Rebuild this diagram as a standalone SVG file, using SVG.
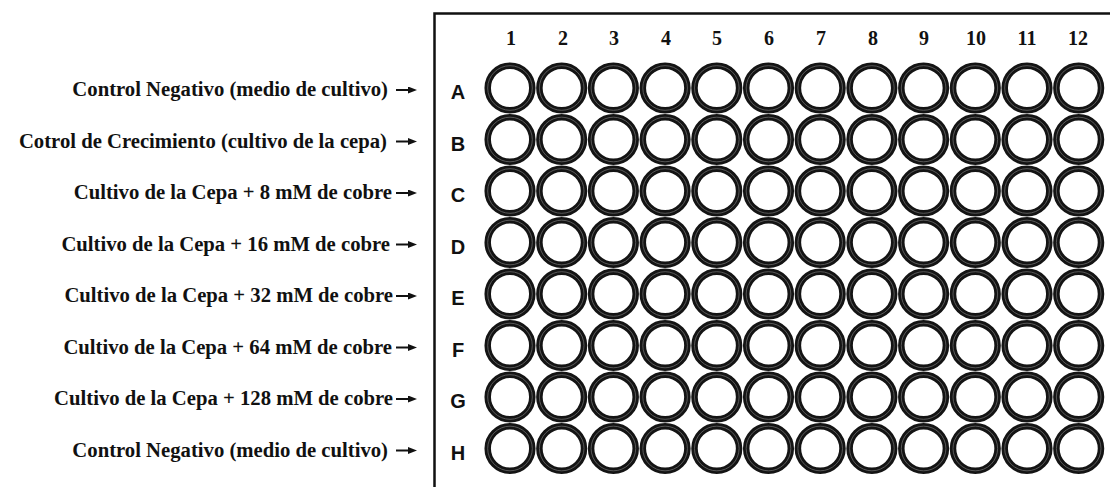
<svg xmlns="http://www.w3.org/2000/svg" width="1110" height="487" viewBox="0 0 1110 487">
<style>
.lbl{font-family:"Liberation Serif","Times New Roman",serif;font-weight:bold;font-size:20.7px;fill:#111;text-anchor:end}
.row{font-family:"Liberation Sans",Arial,sans-serif;font-weight:bold;font-size:20px;fill:#111;text-anchor:middle}
.col{font-family:"Liberation Serif","Times New Roman",serif;font-weight:bold;font-size:20px;fill:#111;text-anchor:middle}
.well{fill:#fff;stroke:#141414;stroke-width:6.5}
.wi{fill:none;stroke:#6a6a6a;stroke-width:0.8}
.arr{stroke:#111;stroke-width:2;fill:none}
.frame{stroke:#111;stroke-width:2.5;fill:none}
</style>
<defs>
<marker id="ah" markerUnits="userSpaceOnUse" markerWidth="9" markerHeight="7" refX="1" refY="3.5" orient="auto">
<path d="M0,0 L9,3.5 L0,7 z" fill="#111"/>
</marker>
<g id="w"><circle class="well" r="22.3"/><circle class="wi" r="22.3"/></g>
</defs>
<rect width="1110" height="487" fill="#fff"/>
<g id="plate">
<path class="frame" d="M434.5,487 L434.5,13.5 L1110,13.5"/>
<g id="col-numbers">
<text class="col" x="511" y="45">1</text>
<text class="col" x="563" y="45">2</text>
<text class="col" x="614" y="45">3</text>
<text class="col" x="666" y="45">4</text>
<text class="col" x="717" y="45">5</text>
<text class="col" x="769" y="45">6</text>
<text class="col" x="821" y="45">7</text>
<text class="col" x="873" y="45">8</text>
<text class="col" x="924" y="45">9</text>
<text class="col" x="976" y="45">10</text>
<text class="col" x="1027" y="45">11</text>
<text class="col" x="1078" y="45">12</text>
</g>
<g id="row-letters">
<text class="row" x="458" y="99">A</text>
<text class="row" x="458" y="150.5">B</text>
<text class="row" x="458" y="202">C</text>
<text class="row" x="458" y="253.5">D</text>
<text class="row" x="458" y="305">E</text>
<text class="row" x="458" y="356.5">F</text>
<text class="row" x="458" y="408">G</text>
<text class="row" x="458" y="459.5">H</text>
</g>
<g id="wells">
<g id="row-A" transform="translate(0,88)"><use href="#w" x="510"/><use href="#w" x="561.7"/><use href="#w" x="613.4"/><use href="#w" x="665.1"/><use href="#w" x="716.8"/><use href="#w" x="768.5"/><use href="#w" x="820.2"/><use href="#w" x="871.9"/><use href="#w" x="923.6"/><use href="#w" x="975.3"/><use href="#w" x="1027"/><use href="#w" x="1078.7"/></g>
<g id="row-B" transform="translate(0,139.5)"><use href="#w" x="510"/><use href="#w" x="561.7"/><use href="#w" x="613.4"/><use href="#w" x="665.1"/><use href="#w" x="716.8"/><use href="#w" x="768.5"/><use href="#w" x="820.2"/><use href="#w" x="871.9"/><use href="#w" x="923.6"/><use href="#w" x="975.3"/><use href="#w" x="1027"/><use href="#w" x="1078.7"/></g>
<g id="row-C" transform="translate(0,191)"><use href="#w" x="510"/><use href="#w" x="561.7"/><use href="#w" x="613.4"/><use href="#w" x="665.1"/><use href="#w" x="716.8"/><use href="#w" x="768.5"/><use href="#w" x="820.2"/><use href="#w" x="871.9"/><use href="#w" x="923.6"/><use href="#w" x="975.3"/><use href="#w" x="1027"/><use href="#w" x="1078.7"/></g>
<g id="row-D" transform="translate(0,242.5)"><use href="#w" x="510"/><use href="#w" x="561.7"/><use href="#w" x="613.4"/><use href="#w" x="665.1"/><use href="#w" x="716.8"/><use href="#w" x="768.5"/><use href="#w" x="820.2"/><use href="#w" x="871.9"/><use href="#w" x="923.6"/><use href="#w" x="975.3"/><use href="#w" x="1027"/><use href="#w" x="1078.7"/></g>
<g id="row-E" transform="translate(0,294)"><use href="#w" x="510"/><use href="#w" x="561.7"/><use href="#w" x="613.4"/><use href="#w" x="665.1"/><use href="#w" x="716.8"/><use href="#w" x="768.5"/><use href="#w" x="820.2"/><use href="#w" x="871.9"/><use href="#w" x="923.6"/><use href="#w" x="975.3"/><use href="#w" x="1027"/><use href="#w" x="1078.7"/></g>
<g id="row-F" transform="translate(0,345.5)"><use href="#w" x="510"/><use href="#w" x="561.7"/><use href="#w" x="613.4"/><use href="#w" x="665.1"/><use href="#w" x="716.8"/><use href="#w" x="768.5"/><use href="#w" x="820.2"/><use href="#w" x="871.9"/><use href="#w" x="923.6"/><use href="#w" x="975.3"/><use href="#w" x="1027"/><use href="#w" x="1078.7"/></g>
<g id="row-G" transform="translate(0,397)"><use href="#w" x="510"/><use href="#w" x="561.7"/><use href="#w" x="613.4"/><use href="#w" x="665.1"/><use href="#w" x="716.8"/><use href="#w" x="768.5"/><use href="#w" x="820.2"/><use href="#w" x="871.9"/><use href="#w" x="923.6"/><use href="#w" x="975.3"/><use href="#w" x="1027"/><use href="#w" x="1078.7"/></g>
<g id="row-H" transform="translate(0,448.5)"><use href="#w" x="510"/><use href="#w" x="561.7"/><use href="#w" x="613.4"/><use href="#w" x="665.1"/><use href="#w" x="716.8"/><use href="#w" x="768.5"/><use href="#w" x="820.2"/><use href="#w" x="871.9"/><use href="#w" x="923.6"/><use href="#w" x="975.3"/><use href="#w" x="1027"/><use href="#w" x="1078.7"/></g>
</g>
</g>
<g id="label-A"><text class="lbl" x="388" y="96">Control Negativo (medio de cultivo)</text></g>
<g id="label-B"><text class="lbl" x="387" y="147.5">Cotrol de Crecimiento (cultivo de la cepa)</text></g>
<g id="label-C"><text class="lbl" x="392" y="199">Cultivo de la Cepa + 8 mM de cobre</text></g>
<g id="label-D"><text class="lbl" x="390" y="250.5">Cultivo de la Cepa + 16 mM de cobre</text></g>
<g id="label-E"><text class="lbl" x="393" y="302">Cultivo de la Cepa + 32 mM de cobre</text></g>
<g id="label-F"><text class="lbl" x="392" y="353.5">Cultivo de la Cepa + 64 mM de cobre</text></g>
<g id="label-G"><text class="lbl" x="393" y="405">Cultivo de la Cepa + 128 mM de cobre</text></g>
<g id="label-H"><text class="lbl" x="388" y="456.5">Control Negativo (medio de cultivo)</text></g>
<g id="connectors">
<path class="arr" marker-end="url(#ah)" d="M396,90 L409,90"/>
<path class="arr" marker-end="url(#ah)" d="M396,141.5 L409,141.5"/>
<path class="arr" marker-end="url(#ah)" d="M396,193 L409,193"/>
<path class="arr" marker-end="url(#ah)" d="M396,244.5 L409,244.5"/>
<path class="arr" marker-end="url(#ah)" d="M396,296 L409,296"/>
<path class="arr" marker-end="url(#ah)" d="M396,347.5 L409,347.5"/>
<path class="arr" marker-end="url(#ah)" d="M396,399 L409,399"/>
<path class="arr" marker-end="url(#ah)" d="M396,450.5 L409,450.5"/>
</g>
</svg>
